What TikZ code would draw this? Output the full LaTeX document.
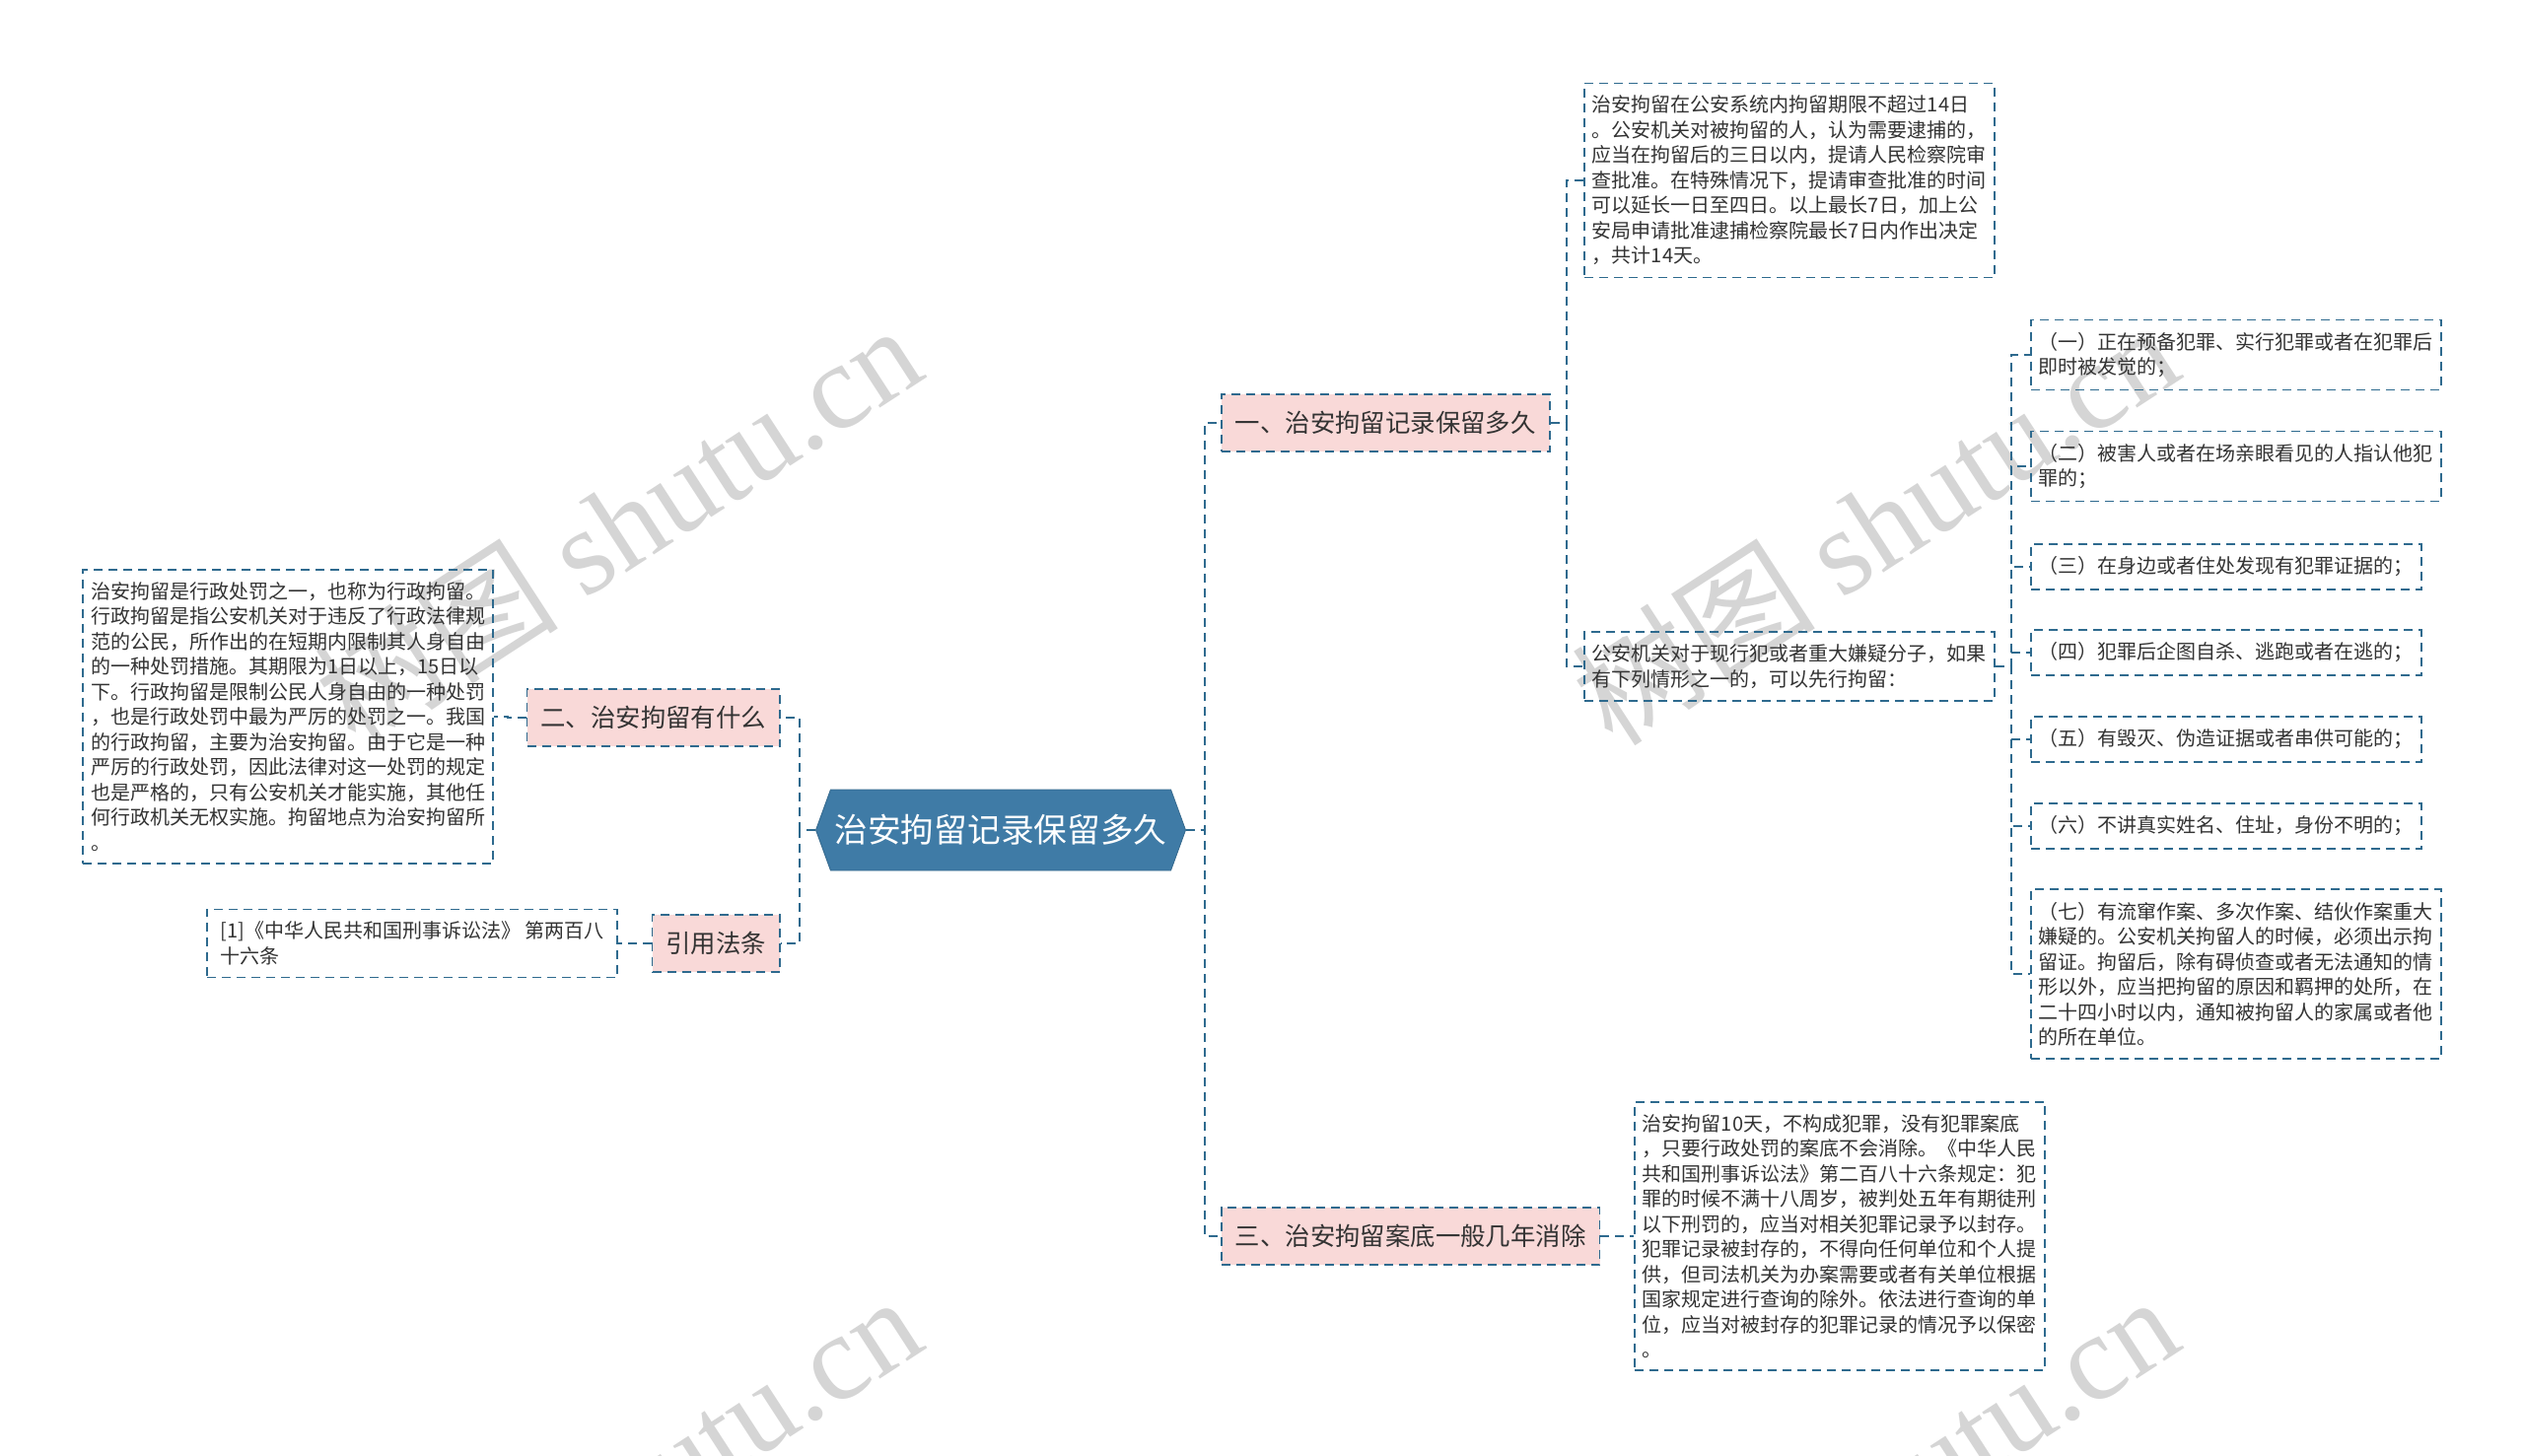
\documentclass[tikz,border=0pt]{standalone}
\usepackage{fontspec}
\setmainfont{Noto Sans CJK SC}
\newfontfamily\wmfont{Liberation Serif}
\usepackage{tikz}
\usetikzlibrary{shapes.symbols}

\definecolor{linkblue}{HTML}{2E6A8E}
\definecolor{rootblue}{HTML}{3F7BA6}
\definecolor{pinkfill}{HTML}{F9D9D8}
\definecolor{textgray}{HTML}{333333}
\definecolor{wmgray}{HTML}{D5D5D5}

\tikzset{
	link/.style={draw=linkblue, line width=0.9pt, dash pattern=on 4.5pt off 3pt},
	rootbox/.style={signal, signal to=west and east, signal pointer angle=140, fill=rootblue, draw=rootblue!85!black, text=white, font=\fontsize{16.85pt}{20pt}\selectfont, minimum width=187.5pt, minimum height=41pt, inner sep=0pt},
	topic/.style={link, fill=pinkfill, text=textgray, font=\fontsize{12.7pt}{15pt}\selectfont, inner xsep=7pt, minimum height=29pt},
	leaf/.style={link, text=textgray, font=\fontsize{10pt}{12.75pt}\selectfont, align=left, inner xsep=4pt, inner ysep=6.25pt},
	leafwide/.style={leaf, minimum width=208pt},
	wmark/.style={text=wmgray, rotate=33, anchor=base east, font=\fontsize{62pt}{62pt}\selectfont},
}

\begin{document}
\begin{tikzpicture}[x=0.5pt, y=-0.5pt]
		\useasboundingbox[fill=white] (0,0) rectangle (2560,1477);

		\node[wmark] (wm1) at (948,378) {树图 {\wmfont shutu.cn}};
		\node[wmark] (wm2) at (2223,378) {树图 {\wmfont shutu.cn}};
		\node[wmark] (wm3) at (948,1363) {树图 {\wmfont shutu.cn}};
		\node[wmark] (wm4) at (2223,1363) {树图 {\wmfont shutu.cn}};

		\node[rootbox] (root) at (1015,842) {治安拘留记录保留多久};

		\node[topic, anchor=west] (one) at (1238,429) {一、治安拘留记录保留多久};
		\node[topic, anchor=west] (three) at (1238,1254) {三、治安拘留案底一般几年消除};
		\node[topic, anchor=east] (two) at (792,728) {二、治安拘留有什么};
		\node[topic, anchor=east] (cite) at (792,957) {引用法条};

		\node[leafwide, anchor=east] (twotext) at (501,727) {治安拘留是行政处罚之一，也称为行政拘留。\\行政拘留是指公安机关对于违反了行政法律规\\范的公民，所作出的在短期内限制其人身自由\\的一种处罚措施。其期限为1日以上，15日以\\下。行政拘留是限制公民人身自由的一种处罚\\，也是行政处罚中最为严厉的处罚之一。我国\\的行政拘留，主要为治安拘留。由于它是一种\\严厉的行政处罚，因此法律对这一处罚的规定\\也是严格的，只有公安机关才能实施，其他任\\何行政机关无权实施。拘留地点为治安拘留所\\。};
		\node[leafwide, anchor=east] (citetext) at (627,957) {[1]《中华人民共和国刑事诉讼法》 第两百八\\十六条};

		\node[leafwide, anchor=west] (onetext) at (1606,183) {治安拘留在公安系统内拘留期限不超过14日\\。公安机关对被拘留的人，认为需要逮捕的，\\应当在拘留后的三日以内，提请人民检察院审\\查批准。在特殊情况下，提请审查批准的时间\\可以延长一日至四日。以上最长7日，加上公\\安局申请批准逮捕检察院最长7日内作出决定\\，共计14天。};
		\node[leafwide, anchor=west] (arrest) at (1606,676) {公安机关对于现行犯或者重大嫌疑分子，如果\\有下列情形之一的，可以先行拘留：};

		\node[leafwide, anchor=west] (c1) at (2059,360) {（一）正在预备犯罪、实行犯罪或者在犯罪后\\即时被发觉的；};
		\node[leafwide, anchor=west] (c2) at (2059,473) {（二）被害人或者在场亲眼看见的人指认他犯\\罪的；};
		\node[leaf, anchor=west] (c3) at (2059,575) {（三）在身边或者住处发现有犯罪证据的；};
		\node[leaf, anchor=west] (c4) at (2059,662) {（四）犯罪后企图自杀、逃跑或者在逃的；};
		\node[leaf, anchor=west] (c5) at (2059,750) {（五）有毁灭、伪造证据或者串供可能的；};
		\node[leaf, anchor=west] (c6) at (2059,838) {（六）不讲真实姓名、住址，身份不明的；};
		\node[leafwide, anchor=west] (c7) at (2059,988) {（七）有流窜作案、多次作案、结伙作案重大\\嫌疑的。公安机关拘留人的时候，必须出示拘\\留证。拘留后，除有碍侦查或者无法通知的情\\形以外，应当把拘留的原因和羁押的处所，在\\二十四小时以内，通知被拘留人的家属或者他\\的所在单位。};

		\node[leafwide, anchor=west] (threetext) at (1657,1254) {治安拘留10天，不构成犯罪，没有犯罪案底\\，只要行政处罚的案底不会消除。《中华人民\\共和国刑事诉讼法》第二百八十六条规定：犯\\罪的时候不满十八周岁，被判处五年有期徒刑\\以下刑罚的，应当对相关犯罪记录予以封存。\\犯罪记录被封存的，不得向任何单位和个人提\\供，但司法机关为办案需要或者有关单位根据\\国家规定进行查询的除外。依法进行查询的单\\位，应当对被封存的犯罪记录的情况予以保密\\。};

		\draw[link] (root.east) -- ++(19,0) |- (one.west);
		\draw[link] (root.east) -- ++(19,0) |- (three.west);
		\draw[link] (root.west) -- ++(-16,0) |- (two.east);
		\draw[link] (root.west) -- ++(-16,0) |- (cite.east);

		\draw[link] (two.west) -- ++(-19,0) |- (twotext.east);
		\draw[link] (cite.west) -- ++(-19,0) |- (citetext.east);

		\draw[link] (one.east) -- ++(16,0) |- (onetext.west);
		\draw[link] (one.east) -- ++(16,0) |- (arrest.west);
		\draw[link] (three.east) -- ++(18,0) |- (threetext.west);

		\draw[link] (arrest.east) -- ++(16,0) |- (c1.west);
		\draw[link] (arrest.east) -- ++(16,0) |- (c2.west);
		\draw[link] (arrest.east) -- ++(16,0) |- (c3.west);
		\draw[link] (arrest.east) -- ++(16,0) |- (c4.west);
		\draw[link] (arrest.east) -- ++(16,0) |- (c5.west);
		\draw[link] (arrest.east) -- ++(16,0) |- (c6.west);
		\draw[link] (arrest.east) -- ++(16,0) |- (c7.west);
	\end{tikzpicture}
\end{document}
